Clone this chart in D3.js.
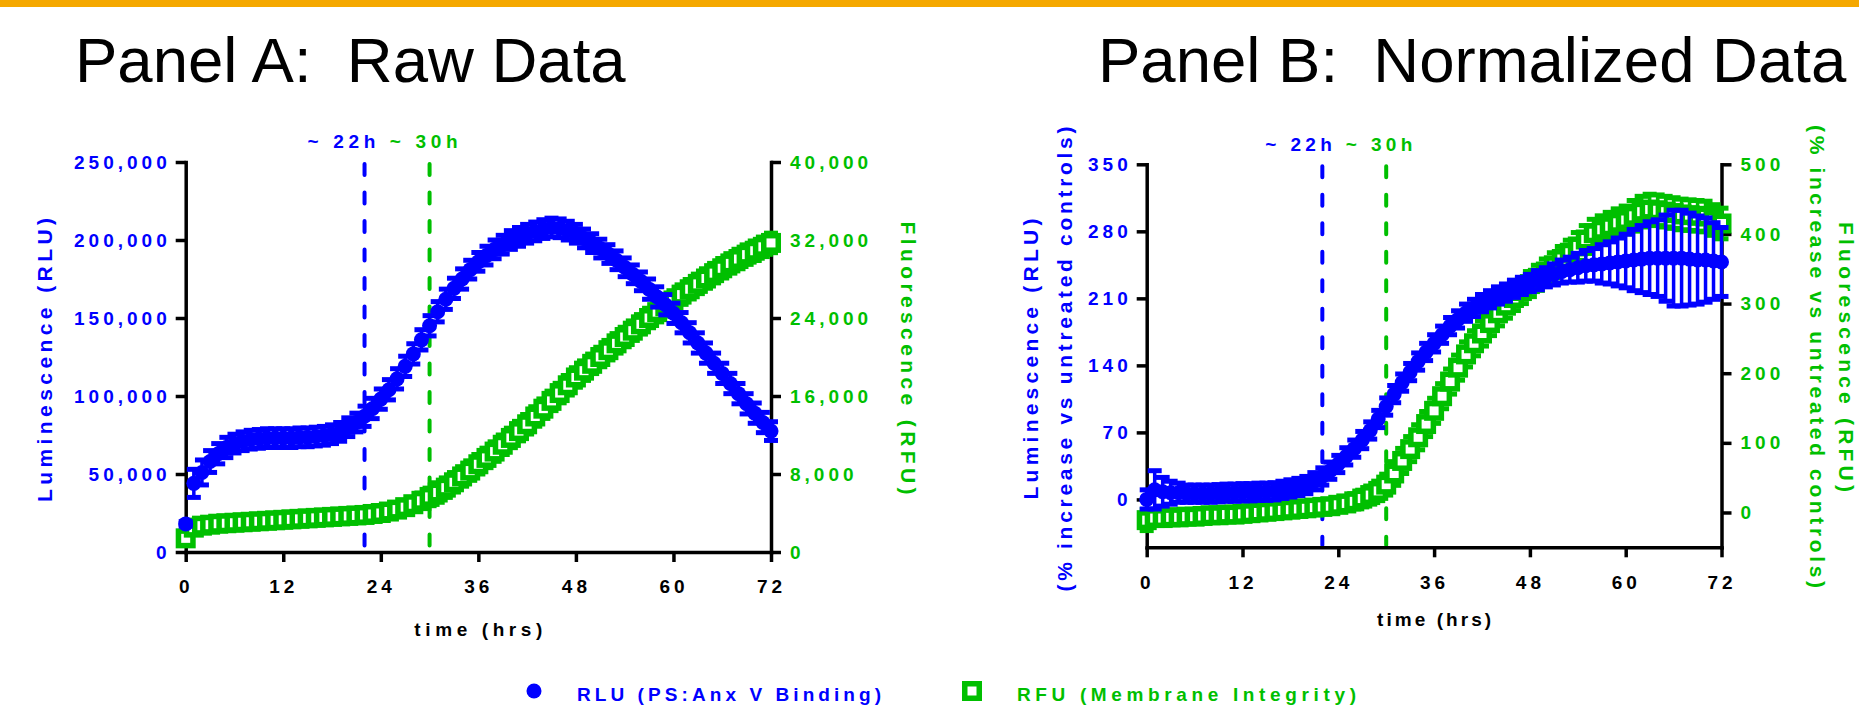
<!DOCTYPE html>
<html>
<head>
<meta charset="utf-8">
<script src="https://cdn.jsdelivr.net/npm/d3@7"></script>
<style>
  body { margin: 0; background: #fff; }
  svg text { font-family: "Liberation Sans", Arial, sans-serif; }
</style>
</head>
<body>
<div id="plot"></div>
<script>
const w = 1859;
const h = 705;
const blue = "#0000ff";
const green = "#00bf00";

// time points (hrs)
const hours = d3.range(0, 73);
const xTicks = [0, 12, 24, 36, 48, 60, 72];
const markHours = [22, 30];

// Panel A: raw luminescence (RLU) and fluorescence (RFU)
const rawRLU = [18000, 44000, 51000, 58000, 63000, 67000, 69500, 71000, 72000, 72500,
  73000, 73000, 73000, 73000, 73500, 73500, 74000, 74500, 75500, 77000,
  80000, 83000, 87000, 92000, 98000, 104000, 111000, 119000, 127000, 136000,
  145000, 154000, 162000, 169000, 175000, 181000, 186000, 190000, 194000, 197000,
  200000, 202000, 204000, 205500, 207000, 208000, 207500, 206000, 204000, 201000,
  198000, 194500, 191000, 187000, 182500, 178000, 173500, 168500, 163500, 158500,
  153000, 147000, 140500, 134000, 127500, 121000, 114500, 108000, 101500, 95000,
  89000, 83000, 77500];
const rawRLUErr = [1500, 9000, 8000, 7000, 6500, 6500, 6000, 6000, 6000, 6000,
  6000, 6000, 6000, 6000, 6000, 6000, 6000, 6000, 6000, 6000,
  6000, 6000, 6500, 6500, 6500, 6500, 6500, 6500, 6500, 6500,
  6500, 6500, 6500, 6500, 6500, 6000, 6000, 6000, 6000, 6000,
  6000, 6000, 6000, 6000, 6000, 6000, 6000, 6000, 6000, 6000,
  6000, 6000, 6000, 6000, 6000, 6000, 6000, 6500, 6500, 6500,
  6500, 6500, 6500, 6500, 6500, 6500, 6500, 6500, 6500, 6500,
  6500, 6500, 6000];
const rawRFU = [1400, 2500, 2700, 2800, 2900, 2950, 3000, 3050, 3100, 3150,
  3200, 3250, 3300, 3350, 3400, 3450, 3500, 3550, 3600, 3650,
  3700, 3750, 3800, 3900, 4000, 4150, 4350, 4600, 4900, 5250,
  5650, 6100, 6600, 7150, 7750, 8350, 9000, 9650, 10300, 11000,
  11700, 12400, 13100, 13900, 14700, 15500, 16300, 17100, 17900, 18600,
  19300, 20000, 20700, 21400, 22050, 22700, 23350, 24000, 24600, 25200,
  25800, 26400, 26950, 27500, 28050, 28600, 29100, 29600, 30050, 30500,
  30900, 31300, 31700];
const rawRFUErr = [500, 300, 250, 250, 250, 250, 250, 250, 250, 250,
  250, 250, 250, 250, 250, 250, 250, 250, 250, 250,
  300, 300, 300, 350, 400, 450, 500, 600, 700, 800,
  900, 1000, 1000, 1000, 1000, 1000, 1000, 1000, 1000, 1000,
  1000, 1000, 1000, 1000, 1000, 1000, 1000, 1000, 1000, 1000,
  1000, 1000, 1000, 1000, 1000, 1000, 1000, 1000, 1000, 1000,
  1000, 1000, 1000, 1000, 1000, 1000, 1000, 1000, 1000, 1000,
  1000, 1000, 1000];
const rawLeftTicks = [0, 50000, 100000, 150000, 200000, 250000];
const rawRightTicks = [0, 8000, 16000, 24000, 32000, 40000];

// Panel B: % increase vs untreated controls
const normRLU = [0, 10, 8, 7, 7, 6, 6, 6, 6, 6.5,
  7, 7, 7.5, 7.5, 8, 8, 8.5, 10, 11.5, 13,
  15, 19, 24, 30, 37, 45, 53, 62, 72, 84,
  97, 110, 122, 133, 144, 154, 163, 172, 181, 188,
  195, 200, 205, 209, 213, 216, 220, 223, 226, 229,
  232, 235, 238, 240, 242, 244, 245, 246, 247, 248,
  249, 250, 251, 252, 252, 252, 252, 252, 251, 250,
  250, 249, 248];
const normRLUErr = [10, 20, 15, 12, 10, 9, 9, 9, 9, 9,
  9, 9, 9, 9, 9, 9, 9, 9, 9, 9,
  9, 9, 9, 9, 9, 9, 9, 9, 9, 9,
  9, 9, 9, 9, 9, 9, 9, 9, 9, 9,
  9, 9, 9, 9, 9, 9, 9, 9, 9, 10,
  10, 11, 12, 13, 15, 16, 17, 20, 22, 25,
  28, 32, 35, 38, 40, 45, 50, 50, 48, 46,
  44, 40, 36];
const normRFU = [-11, -8, -8, -7, -7, -6, -6, -5, -4, -4,
  -3, -3, -2, -1, 0, 1, 2, 3, 4, 5,
  6, 7, 8, 9, 11, 13, 16, 20, 25, 31,
  40, 56, 74, 91, 108, 127, 146, 167, 188, 208,
  227, 243, 257, 272, 286, 297, 308, 318, 328, 337,
  346, 355, 364, 373, 382, 392, 401, 406, 411, 416,
  420, 426, 432, 435, 434, 432, 430, 428, 427, 426,
  425, 420, 415];
const normRFUErr = [15, 8, 6, 6, 5, 5, 5, 5, 5, 5,
  5, 5, 5, 5, 5, 5, 5, 5, 5, 5,
  6, 6, 7, 8, 9, 10, 11, 12, 13, 14,
  15, 17, 18, 18, 18, 18, 18, 18, 18, 18,
  18, 18, 18, 18, 18, 18, 18, 18, 18, 18,
  18, 18, 18, 18, 20, 20, 20, 20, 20, 20,
  20, 22, 22, 22, 22, 22, 22, 22, 22, 22,
  22, 22, 22];
const normLeftTicks = [0, 70, 140, 210, 280, 350];
const normRightTicks = [0, 100, 200, 300, 400, 500];

const svg = d3.select("#plot")
  .append("svg")
  .attr("width", w)
  .attr("height", h)
  .style("display", "block")
  .style("background", "#fff");

// orange band on top
svg.append("rect")
  .attr("x", 0).attr("y", 0)
  .attr("width", w).attr("height", 7)
  .attr("fill", "#f5a800");

function title(x, str) {
  svg.append("text")
    .attr("x", x)
    .attr("y", 82)
    .attr("font-size", "63.5px")
    .attr("fill", "#000")
    .style("white-space", "pre")
    .text(str);
}
title(75, "Panel A:  Raw Data");
title(1098, "Panel B:  Normalized Data");

// rotated bold label, centred on (cx, cy)
function vLabel(cx, cy, rot, str, color, len) {
  svg.append("text")
    .attr("transform", `translate(${cx},${cy}) rotate(${rot})`)
    .attr("text-anchor", "middle")
    .attr("dy", "0.35em")
    .attr("font-size", "21px")
    .attr("font-weight", "bold")
    .attr("fill", color)
    .attr("textLength", len)
    .attr("lengthAdjust", "spacing")
    .text(str);
}

function styleAxis(sel, color, anchorShift) {
  sel.attr("font-size", 19).attr("font-family", "Liberation Sans, Arial, sans-serif");
  sel.select(".domain")
    .attr("stroke", "#000")
    .attr("stroke-width", 3.5)
    .attr("stroke-linecap", "square");
  sel.selectAll(".tick line")
    .attr("stroke", "#000")
    .attr("stroke-width", 3.5);
  sel.selectAll(".tick text")
    .attr("fill", color)
    .attr("font-weight", "bold")
    .attr("letter-spacing", 4);
  if (anchorShift) sel.selectAll(".tick text").attr("x", anchorShift);
}

function errorSeries(g, x, y, vals, errs, color, shape) {
  const pts = vals.map((v, i) => ({ t: hours[i], v: v, e: errs[i] }));
  const bars = g.append("g").attr("stroke", color);
  bars.selectAll("line.stem")
    .data(pts)
    .join("line")
    .attr("class", "stem")
    .attr("x1", d => x(d.t)).attr("x2", d => x(d.t))
    .attr("y1", d => y(d.v - d.e)).attr("y2", d => y(d.v + d.e))
    .attr("stroke-width", 3.5);
  [-1, 1].forEach(s => {
    bars.selectAll("line.cap" + (s + 1))
      .data(pts)
      .join("line")
      .attr("class", "cap" + (s + 1))
      .attr("x1", d => x(d.t) - 7).attr("x2", d => x(d.t) + 7)
      .attr("y1", d => y(d.v + s * d.e)).attr("y2", d => y(d.v + s * d.e))
      .attr("stroke-width", 5);
  });
  if (shape === "circle") {
    g.selectAll("circle.pt")
      .data(pts)
      .join("circle")
      .attr("class", "pt")
      .attr("cx", d => x(d.t))
      .attr("cy", d => y(d.v))
      .attr("r", 7.5)
      .attr("fill", color);
  } else {
    g.selectAll("rect.pt")
      .data(pts)
      .join("rect")
      .attr("class", "pt")
      .attr("x", d => x(d.t) - 7.25)
      .attr("y", d => y(d.v) - 7.25)
      .attr("width", 14.5)
      .attr("height", 14.5)
      .attr("fill", "#fff")
      .attr("stroke", color)
      .attr("stroke-width", 5.5);
  }
}

function drawPanel(p) {
  const x = d3.scaleLinear().domain([0, 72]).range([p.left, p.right]);
  const yL = d3.scaleLinear().domain(p.leftDomain).range([p.bottom, p.top]);
  const yR = d3.scaleLinear().domain(p.rightDomain).range([p.bottom, p.top]);
  const g = svg.append("g");

  // ~22h / ~30h markers
  g.selectAll("line.mark")
    .data(markHours)
    .join("line")
    .attr("class", "mark")
    .attr("x1", d => x(d)).attr("x2", d => x(d))
    .attr("y1", p.top + 2).attr("y2", p.bottom - 2)
    .attr("stroke", (d, i) => i === 0 ? blue : green)
    .attr("stroke-width", 4)
    .attr("stroke-dasharray", "11,17.5")
    .attr("stroke-linecap", "round");

  const ann = g.append("text")
    .attr("x", x(22) - 57)
    .attr("y", p.annY)
    .attr("font-size", "19px")
    .attr("font-weight", "bold")
    .attr("textLength", p.annLen)
    .attr("lengthAdjust", "spacing");
  ann.append("tspan").attr("fill", blue).text("~ 22h ");
  ann.append("tspan").attr("fill", green).text("~ 30h");

  g.append("g")
    .attr("transform", `translate(${p.left},0)`)
    .call(d3.axisLeft(yL).tickValues(p.leftTicks).tickSize(10).tickPadding(9)
      .tickSizeOuter(0).tickFormat(d3.format(",")))
    .call(sel => styleAxis(sel, blue, -15));

  g.append("g")
    .attr("transform", `translate(${p.right},0)`)
    .call(d3.axisRight(yR).tickValues(p.rightTicks).tickSize(10).tickPadding(9)
      .tickSizeOuter(0).tickFormat(d3.format(",")))
    .call(sel => styleAxis(sel, green));

  g.append("g")
    .attr("transform", `translate(0,${p.bottom})`)
    .call(d3.axisBottom(x).tickValues(xTicks).tickSize(10).tickPadding(18).tickSizeOuter(0))
    .call(sel => styleAxis(sel, "#000"));

  svg.append("text")
    .attr("x", (p.left + p.right) / 2)
    .attr("y", p.timeY)
    .attr("text-anchor", "middle")
    .attr("font-size", "19px")
    .attr("font-weight", "bold")
    .attr("fill", "#000")
    .attr("textLength", p.timeLen)
    .attr("lengthAdjust", "spacing")
    .text("time (hrs)");

  errorSeries(g.append("g"), x, yR, p.rfu, p.rfuErr, green, "square");
  errorSeries(g.append("g"), x, yL, p.rlu, p.rluErr, blue, "circle");
}

drawPanel({
  left: 185.7, right: 771, top: 162, bottom: 552,
  leftDomain: [0, 250000], rightDomain: [0, 40000],
  leftTicks: rawLeftTicks, rightTicks: rawRightTicks,
  rlu: rawRLU, rluErr: rawRLUErr, rfu: rawRFU, rfuErr: rawRFUErr,
  annY: 148, annLen: 150, timeY: 636, timeLen: 128
});

drawPanel({
  left: 1146.7, right: 1721.5, top: 164.3, bottom: 547.3,
  leftDomain: [-50, 350], rightDomain: [-50, 500],
  leftTicks: normLeftTicks, rightTicks: normRightTicks,
  rlu: normRLU, rluErr: normRLUErr, rfu: normRFU, rfuErr: normRFUErr,
  annY: 150.5, annLen: 147, timeY: 626, timeLen: 114
});

// axis titles
vLabel(45, 360, -90, "Luminescence (RLU)", blue, 284);
vLabel(908, 358, 90, "Fluorescence (RFU)", green, 273);
vLabel(1031, 359, -90, "Luminescence (RLU)", blue, 281);
vLabel(1065, 359, -90, "(% increase vs untreated controls)", blue, 465);
vLabel(1817, 356.5, 90, "(% increase vs untreated controls)", green, 463);
vLabel(1846, 357, 90, "Fluorescence (RFU)", green, 270);

// legend
const legend = svg.append("g");
legend.append("circle")
  .attr("cx", 534).attr("cy", 691).attr("r", 7.5)
  .attr("fill", blue);
legend.append("text")
  .attr("x", 577).attr("y", 700.5)
  .attr("font-size", "19px").attr("font-weight", "bold")
  .attr("fill", blue)
  .attr("textLength", 304).attr("lengthAdjust", "spacing")
  .text("RLU (PS:Anx V Binding)");
legend.append("rect")
  .attr("x", 972 - 7.25).attr("y", 691 - 7.25)
  .attr("width", 14.5).attr("height", 14.5)
  .attr("fill", "#fff").attr("stroke", green).attr("stroke-width", 5.5);
legend.append("text")
  .attr("x", 1017).attr("y", 700.5)
  .attr("font-size", "19px").attr("font-weight", "bold")
  .attr("fill", green)
  .attr("textLength", 339).attr("lengthAdjust", "spacing")
  .text("RFU (Membrane Integrity)");
</script>
</body>
</html>
